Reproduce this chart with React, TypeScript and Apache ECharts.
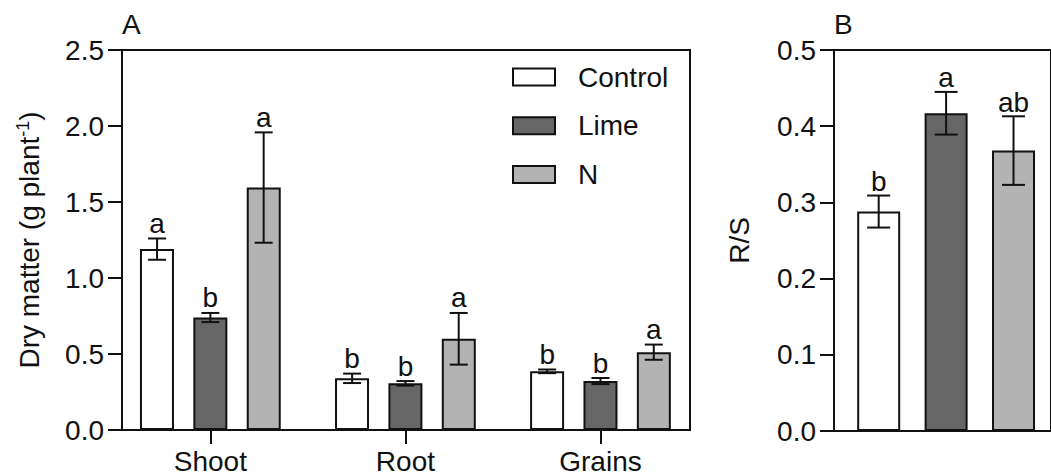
import React, { useEffect, useRef } from "react";
import * as echarts from "echarts";

const organs = ["Shoot", "Root", "Grains"];
const treatments = ["Control", "Lime", "N"];

const controlMeans = [1.19, 0.34, 0.386];
const controlErrs = [0.07, 0.031, 0.012];
const controlLetters = ["a", "b", "b"];

const limeMeans = [0.74, 0.307, 0.322];
const limeErrs = [0.03, 0.015, 0.02];
const limeLetters = ["b", "b", "b"];

const nMeans = [1.595, 0.6, 0.512];
const nErrs = [0.363, 0.17, 0.05];
const nLetters = ["a", "a", "a"];

const rsMeans = [0.288, 0.417, 0.368];
const rsErrs = [0.021, 0.028, 0.045];
const rsLetters = ["b", "a", "ab"];

const FONT = "'Liberation Sans', Arial, sans-serif";
const INK = "#111";
const FILLS = ["#ffffff", "#666666", "#b3b3b3"];
const FS = 28;

function errorRender(offset: number, capW: number, letters: string[], gapAbove: number) {
  return (params: any, api: any) => {
    const x = api.value(0);
    const y = api.value(1);
    const e = api.value(2);
    const top = api.coord([x, y + e]);
    const bot = api.coord([x, y - e]);
    const cx = top[0] + offset;
    const ls = { stroke: INK, lineWidth: 2 };
    return {
      type: "group",
      children: [
        { type: "line", shape: { x1: cx, y1: top[1], x2: cx, y2: bot[1] }, style: ls },
        { type: "line", shape: { x1: cx - capW / 2, y1: top[1], x2: cx + capW / 2, y2: top[1] }, style: ls },
        { type: "line", shape: { x1: cx - capW / 2, y1: bot[1], x2: cx + capW / 2, y2: bot[1] }, style: ls },
        {
          type: "text",
          x: cx,
          y: top[1] - gapAbove,
          style: {
            text: letters[params.dataIndex],
            fontSize: FS,
            fontFamily: FONT,
            fill: INK,
            align: "center",
            verticalAlign: "bottom",
          },
        },
      ],
    };
  };
}

export default function App() {
  const ref = useRef<HTMLDivElement>(null);
  useEffect(() => {
    if (!ref.current) return;
    const chart = echarts.init(ref.current, undefined, { renderer: "svg" });
    const PITCH = 53.3;
    const groupMeans = [controlMeans, limeMeans, nMeans];
    const groupErrs = [controlErrs, limeErrs, nErrs];
    const groupLetters = [controlLetters, limeLetters, nLetters];

    const axisLine = { show: true, onZero: false, lineStyle: { color: INK, width: 2 } };
    const axisTick = { show: true, length: 14, lineStyle: { color: INK, width: 2 } };

    const series: any[] = [];
    treatments.forEach((t, k) => {
      series.push({
        name: t,
        type: "bar",
        xAxisIndex: 0,
        yAxisIndex: 0,
        barWidth: 34,
        barGap: "57%",
        data: groupMeans[k].map((v, i) => [i, v]),
        itemStyle: { color: FILLS[k], borderColor: INK, borderWidth: 2 },
        z: 2,
      });
    });
    treatments.forEach((t, k) => {
      series.push({
        name: t + " err",
        type: "custom",
        xAxisIndex: 0,
        yAxisIndex: 0,
        encode: { x: 0, y: 1 },
        data: groupMeans[k].map((v, i) => [i, v, groupErrs[k][i]]),
        renderItem: errorRender((k - 1) * PITCH, 18, groupLetters[k], 1),
        clip: false,
        z: 5,
      });
    });
    series.push({
      name: "R/S",
      type: "bar",
      xAxisIndex: 1,
      yAxisIndex: 1,
      barWidth: 43,
      data: rsMeans.map((v, i) => ({
        value: [i, v],
        itemStyle: { color: FILLS[i], borderColor: INK, borderWidth: 2 },
      })),
      z: 2,
    });
    series.push({
      name: "R/S err",
      type: "custom",
      xAxisIndex: 1,
      yAxisIndex: 1,
      encode: { x: 0, y: 1 },
      data: rsMeans.map((v, i) => [i, v, rsErrs[i]]),
      renderItem: errorRender(0, 23, rsLetters, 0),
      clip: false,
      z: 5,
    });

    chart.setOption({
      animation: false,
      textStyle: { fontFamily: FONT, color: INK },
      title: [
        { text: "A", left: 122, top: 10, padding: 0, textStyle: { fontSize: FS, fontWeight: "normal", color: INK, fontFamily: FONT } },
        { text: "B", left: 834, top: 10, padding: 0, textStyle: { fontSize: FS, fontWeight: "normal", color: INK, fontFamily: FONT } },
      ],
      legend: {
        data: treatments,
        orient: "vertical",
        left: 512,
        top: 62,
        padding: 0,
        icon: "rect",
        itemWidth: 42,
        itemHeight: 17,
        itemGap: 18.7,
        selectedMode: false,
        textStyle: { fontSize: FS, color: INK, fontFamily: FONT, lineHeight: 30, padding: [0, 0, 0, 18] },
      },
      grid: [
        { left: 122, top: 50, width: 568, height: 381, show: true, borderColor: INK, borderWidth: 2, backgroundColor: "transparent" },
        { left: 834, top: 50, width: 220, height: 381, show: true, borderColor: INK, borderWidth: 2, backgroundColor: "transparent" },
      ],
      xAxis: [
        {
          type: "value",
          gridIndex: 0,
          min: -0.453,
          max: 2.459,
          axisLine,
          axisTick: { ...axisTick, customValues: [0, 1, 2] },
          axisLabel: {
            customValues: [0, 1, 2],
            margin: 17,
            fontSize: FS,
            color: INK,
            fontFamily: FONT,
            formatter: (v: number) => organs[Math.round(v)] ?? "",
          },
          splitLine: { show: false },
        },
        {
          type: "value",
          gridIndex: 1,
          min: -0.663,
          max: 2.556,
          axisLine,
          axisTick: { show: false },
          axisLabel: { show: false },
          splitLine: { show: false },
        },
      ],
      yAxis: [
        {
          type: "value",
          gridIndex: 0,
          min: 0,
          max: 2.5,
          interval: 0.5,
          axisLine,
          axisTick,
          axisLabel: { margin: 18, fontSize: FS, color: INK, fontFamily: FONT, formatter: (v: number) => v.toFixed(1) },
          splitLine: { show: false },
          name: "Dry matter (g plant{sup|-1})",
          nameLocation: "middle",
          nameGap: 77,
          nameTextStyle: {
            fontSize: FS,
            color: INK,
            fontFamily: FONT,
            lineHeight: 31,
            rich: { sup: { fontSize: 18, verticalAlign: "top", lineHeight: 31, fontFamily: FONT, color: INK } },
          },
        },
        {
          type: "value",
          gridIndex: 1,
          min: 0,
          max: 0.5,
          interval: 0.1,
          axisLine,
          axisTick,
          axisLabel: { margin: 18, fontSize: FS, color: INK, fontFamily: FONT, formatter: (v: number) => v.toFixed(1) },
          splitLine: { show: false },
          name: "R/S",
          nameLocation: "middle",
          nameGap: 81,
          nameTextStyle: { fontSize: FS, color: INK, fontFamily: FONT },
        },
      ],
      series,
    });
    return () => chart.dispose();
  }, []);
  return <div ref={ref} style={{ position: "fixed", left: 0, top: 0, width: 1051, height: 475, background: "#fff" }} />;
}
